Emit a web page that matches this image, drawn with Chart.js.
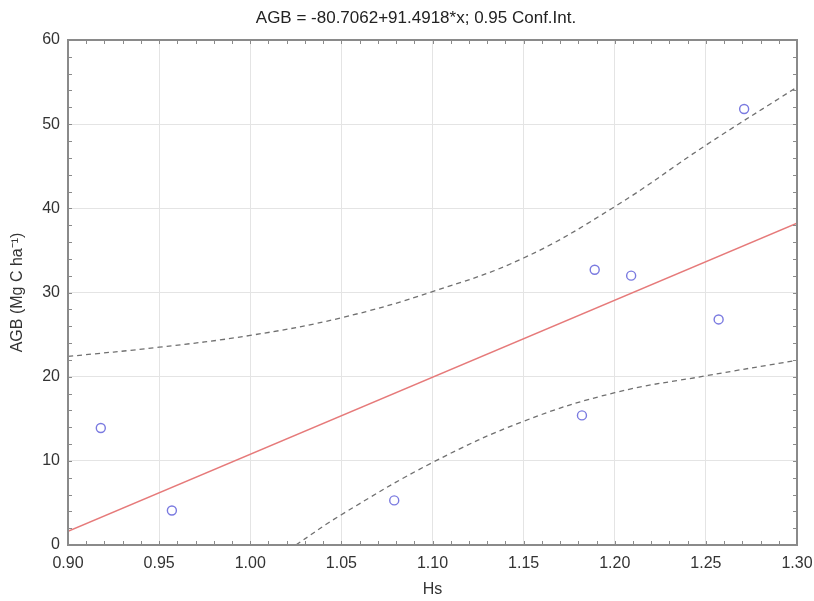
<!DOCTYPE html>
<html>
<head>
<meta charset="utf-8">
<script src="https://cdn.jsdelivr.net/npm/chart.js@4.4.1/dist/chart.umd.min.js"></script>
<style>
  html, body { margin: 0; padding: 0; background: #fff; }
  #wrap { width: 814px; height: 601px; }
</style>
</head>
<body>
<div id="wrap"><canvas id="chart"></canvas></div>
<script>
'use strict';

// observed points
const hsValues  = [0.918, 0.957, 1.079, 1.182, 1.189, 1.209, 1.257, 1.271];
const agbValues = [13.9, 4.1, 5.3, 15.4, 32.7, 32.0, 26.8, 51.8];

// fitted line, from the title
const fitIntercept = -80.7062;
const fitSlope = 91.4918;
const fitX = [0.90, 1.30];

// 0.95 confidence band
const upperX = [0.90, 0.95, 1.00, 1.05, 1.10, 1.15, 1.20, 1.25, 1.30];
const upperY = [22.4, 23.5, 24.9, 27.0, 30.1, 34.1, 40.2, 47.5, 54.4];
const lowerX = [1.025, 1.05, 1.10, 1.15, 1.20, 1.25, 1.30];
const lowerY = [0, 3.6, 9.8, 14.7, 18.1, 20.1, 21.95];

// tick labels
const xTicks = [0.90, 0.95, 1.00, 1.05, 1.10, 1.15, 1.20, 1.25, 1.30];
const yTicks = [0, 10, 20, 30, 40, 50, 60];

const titleText = 'AGB = -80.7062+91.4918*x; 0.95 Conf.Int.';
const FONT = '"Liberation Sans", Arial, sans-serif';

const toPoints = (xs, ys) => xs.map((x, i) => ({ x: x, y: ys[i] }));

// frame, inward ticks and title
const framePlugin = {
  id: 'frame',
  afterDraw(chart) {
    const { ctx, chartArea: a, scales } = chart;
    const xs = scales.x, ys = scales.y;
    ctx.save();
    ctx.strokeStyle = '#8a8a8a';
    ctx.lineWidth = 1;
    // minor + major ticks, x
    for (let i = 90; i <= 130; i++) {
      const px = Math.round(xs.getPixelForValue(i / 100)) + 0.5;
      ctx.beginPath();
      ctx.moveTo(px, a.bottom); ctx.lineTo(px, a.bottom - 4);
      ctx.moveTo(px, a.top); ctx.lineTo(px, a.top + 4);
      ctx.stroke();
    }
    // minor + major ticks, y
    for (let v = 0; v <= 60; v += 2) {
      const py = Math.round(ys.getPixelForValue(v)) + 0.5;
      ctx.beginPath();
      ctx.moveTo(a.left, py); ctx.lineTo(a.left + 4, py);
      ctx.moveTo(a.right, py); ctx.lineTo(a.right - 4, py);
      ctx.stroke();
    }
    ctx.lineWidth = 2;
    ctx.strokeRect(a.left, a.top, a.right - a.left, a.bottom - a.top);

    ctx.fillStyle = '#222';
    ctx.font = '17px ' + FONT;
    ctx.textAlign = 'center';
    ctx.textBaseline = 'middle';
    ctx.fillText(titleText, 416, 18);
    ctx.restore();
  }
};

const ctx = document.getElementById('chart');

new Chart(ctx, {
  type: 'scatter',
  data: {
    datasets: [
      {
        label: 'upper',
        type: 'line',
        data: toPoints(upperX, upperY),
        borderColor: '#707070',
        borderWidth: 1.3,
        borderDash: [5, 4],
        pointRadius: 0,
        tension: 0.4,
        fill: false
      },
      {
        label: 'lower',
        type: 'line',
        data: toPoints(lowerX, lowerY),
        borderColor: '#707070',
        borderWidth: 1.3,
        borderDash: [5, 4],
        pointRadius: 0,
        tension: 0.4,
        fill: false
      },
      {
        label: 'fit',
        type: 'line',
        data: fitX.map(x => ({ x: x, y: fitIntercept + fitSlope * x })),
        borderColor: '#e67a7a',
        borderWidth: 1.5,
        pointRadius: 0,
        fill: false
      },
      {
        label: 'AGB',
        data: toPoints(hsValues, agbValues),
        pointStyle: 'circle',
        pointRadius: 4.5,
        pointBorderWidth: 1.4,
        borderColor: '#7a7ae0',
        backgroundColor: 'rgba(0,0,0,0)'
      }
    ]
  },
  options: {
    responsive: true,
    maintainAspectRatio: false,
    animation: false,
    layout: { padding: { top: 40, right: 17, left: 0, bottom: 0 } },
    plugins: {
      legend: { display: false },
      tooltip: { enabled: false }
    },
    scales: {
      x: {
        type: 'linear',
        min: 0.90,
        max: 1.30,
        afterBuildTicks: s => { s.ticks = xTicks.map(v => ({ value: v })); },
        afterFit: s => { s.height = 56; s.paddingLeft = 0; s.paddingRight = 0; },
        grid: { color: '#e4e4e4', drawTicks: false },
        border: { display: false },
        ticks: {
          padding: 9,
          color: '#333',
          font: { family: FONT, size: 16 },
          callback: v => Number(v).toFixed(2)
        },
        title: {
          display: true,
          text: 'Hs',
          color: '#333',
          font: { family: FONT, size: 16 },
          padding: { top: 4, bottom: 2 }
        }
      },
      y: {
        type: 'linear',
        min: 0,
        max: 60,
        afterBuildTicks: s => { s.ticks = yTicks.map(v => ({ value: v })); },
        afterFit: s => { s.width = 68; s.paddingTop = 0; s.paddingBottom = 0; },
        grid: { color: '#e4e4e4', drawTicks: false },
        border: { display: false },
        ticks: {
          padding: 8,
          color: '#333',
          font: { family: FONT, size: 16 }
        },
        title: {
          display: true,
          text: 'AGB (Mg C ha⁻¹)',
          color: '#333',
          font: { family: FONT, size: 16 },
          padding: { top: 8, bottom: 4 }
        }
      }
    }
  },
  plugins: [framePlugin]
});
</script>
</body>
</html>
